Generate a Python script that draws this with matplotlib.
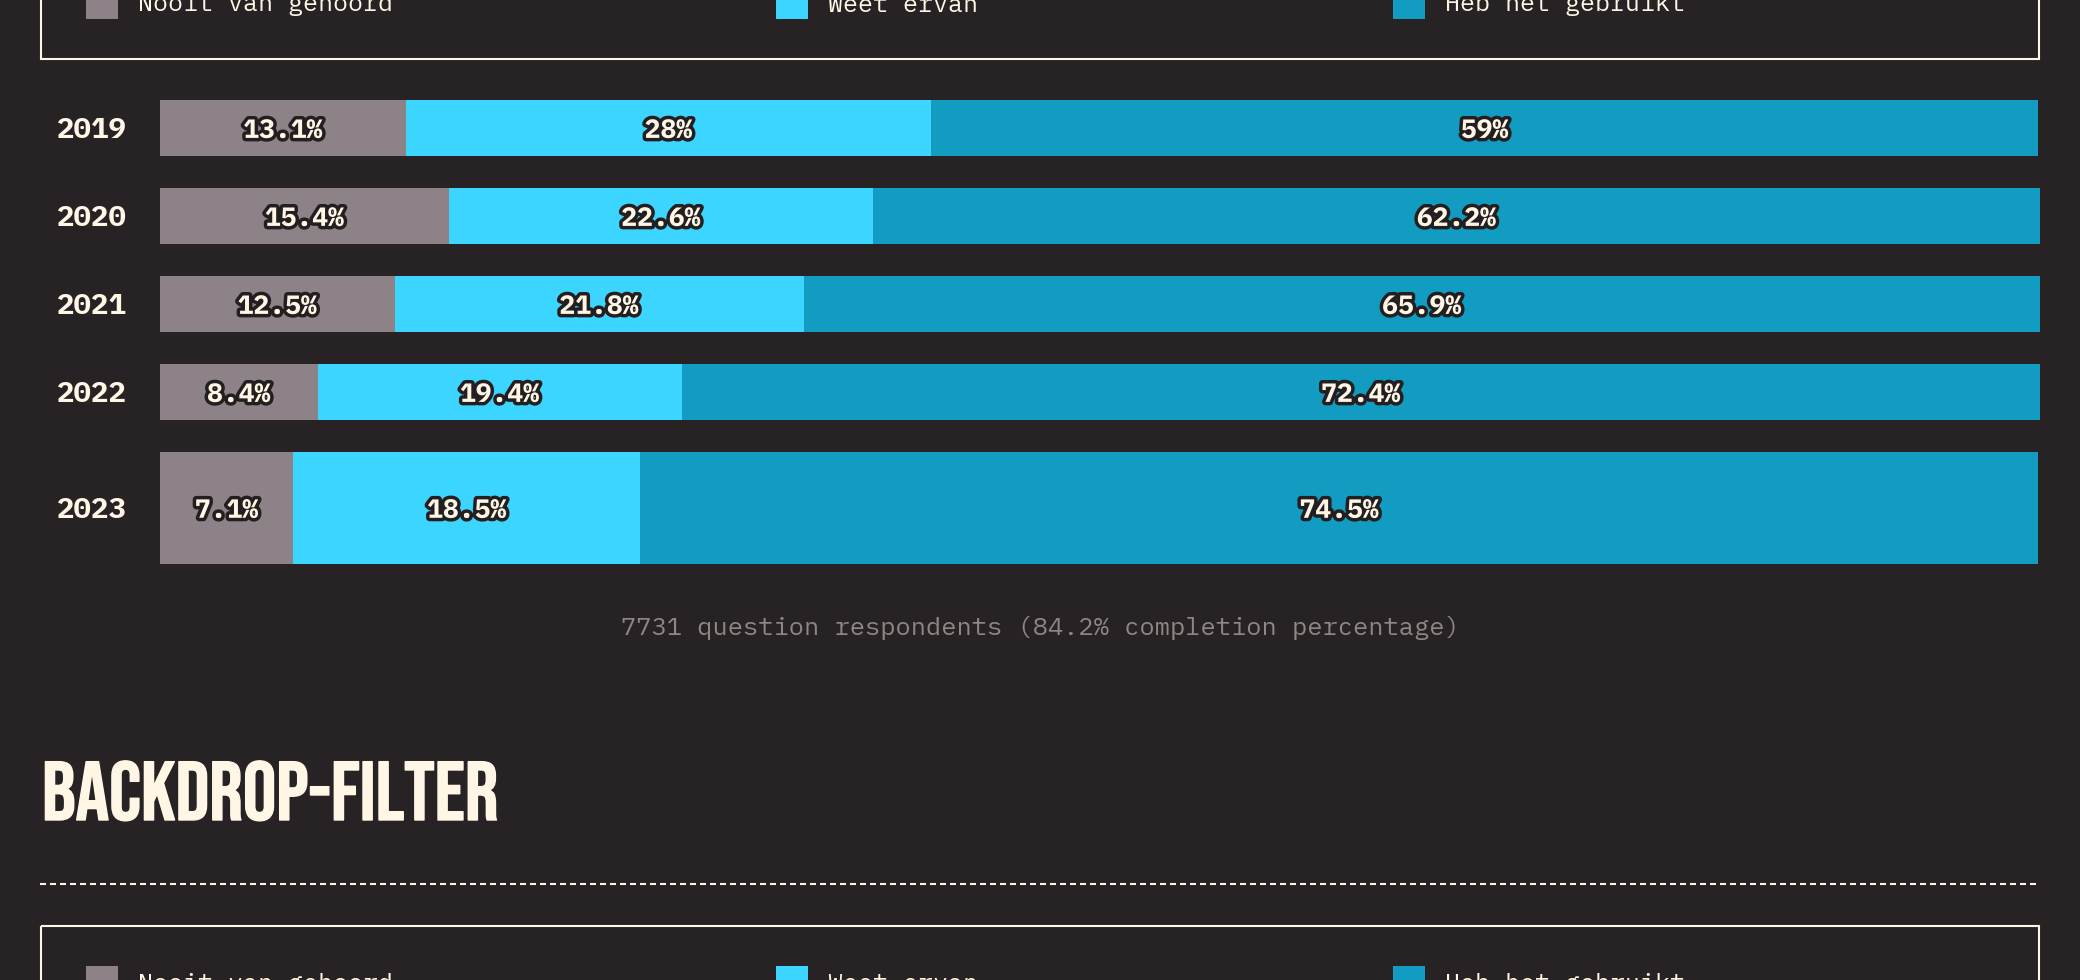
import matplotlib
matplotlib.use('Agg')
import matplotlib.pyplot as plt
from matplotlib import font_manager as fm
from matplotlib.patches import Rectangle
from matplotlib.textpath import TextPath
import matplotlib.patheffects as pe

# ---------------- data ----------------
years = ['2019', '2020', '2021', '2022', '2023']
categories = ['Nooit van gehoord', 'Weet ervan', 'Heb het gebruikt']
nooit = [13.1, 15.4, 12.5, 8.4, 7.1]
weet = [28, 22.6, 21.8, 19.4, 18.5]
gebruikt = [59, 62.2, 65.9, 72.4, 74.5]
footnote = '7731 question respondents (84.2% completion percentage)'
next_title = 'BACKDROP-FILTER'

# ---------------- style ----------------
BG = '#272325'
CREAM = '#fff6e6'
COLORS = ['#8c8287', '#3bd5ff', '#139cc2']
FOOT = '#8e8884'
OUTLINE = '#231f20'

W, H, DPI = 2080, 980, 100
fig = plt.figure(figsize=(W / DPI, H / DPI), dpi=DPI, facecolor=BG)


def font(candidates, weight='normal', size=12):
    for fam in candidates:
        fp = fm.FontProperties(family=fam, weight=weight, size=size)
        try:
            fm.findfont(fp, fallback_to_default=False)
            return fp
        except Exception:
            continue
    return fm.FontProperties(family='DejaVu Sans', weight=weight, size=size)


MONO = ['IBM Plex Mono', 'DejaVu Sans Mono']
lab_fp = font(MONO, 'bold', 19)
year_fp = font(MONO, 'bold', 21)
leg_fp = font(['IBM Plex Mono', 'Liberation Mono'], 'normal', 18)
foot_fp = font(['IBM Plex Mono', 'Liberation Mono'], 'normal', 18.3)

# ---------------- bar axes ----------------
pitch = 88.0          # px per row
row0 = 127.9          # px, centre of first row
ylo, yhi = -0.5, 5.0
top_px = row0 + ylo * pitch
bot_px = row0 + yhi * pitch
ax = fig.add_axes([160 / W, 1 - bot_px / H, 1880 / W, (bot_px - top_px) / H])
ax.set_facecolor('none')
ax.set_xlim(0, 100.2)
ax.set_ylim(yhi, ylo)

bar_h = 0.634
mult = [1, 1, 1, 1, 2]
bottoms = [i - bar_h / 2 for i in range(len(years))]
heights = [bar_h * m for m in mult]
centers = [b + h / 2 for b, h in zip(bottoms, heights)]

lefts = [0.0] * len(years)
for vals, col in zip([nooit, weet, gebruikt], COLORS):
    ax.barh(bottoms, vals, height=heights, left=lefts, align='edge',
            color=col, linewidth=0)
    for l, v, c in zip(lefts, vals, centers):
        ax.text(l + v / 2, c, f'{v:g}%', ha='center', va='center_baseline',
                fontproperties=lab_fp, color=CREAM,
                path_effects=[pe.withStroke(linewidth=5, foreground=OUTLINE)])
    lefts = [l + v for l, v in zip(lefts, vals)]

ax.set_yticks(centers, labels=years)
ax.tick_params(axis='y', length=0, pad=23.5, labelcolor=CREAM)
for lbl in ax.get_yticklabels():
    lbl.set_fontproperties(year_fp)
ax.set_xticks([])
for s in ax.spines.values():
    s.set_visible(False)

# ---------------- overlay (page decorations) ----------------
ov = fig.add_axes([0, 0, 1, 1], zorder=-1)
ov.set_xlim(0, W)
ov.set_ylim(H, 0)
ov.axis('off')
ov.patch.set_visible(False)

legend_sq_x = [86, 776, 1393]


def draw_legend(box_top, box_bottom):
    ov.add_patch(Rectangle((41, box_top), 1998, box_bottom - box_top,
                           fill=False, edgecolor=CREAM, linewidth=1.5))
    sq_top = box_top + 40
    for x, lab, col in zip(legend_sq_x, categories, COLORS):
        ov.add_patch(Rectangle((x, sq_top), 32, 32, facecolor=col,
                               edgecolor='none'))
        ov.text(x + 52, sq_top + 24.5, lab, ha='left', va='baseline',
                fontproperties=leg_fp, color=CREAM)


draw_legend(-53, 59)
draw_legend(926, 1038)

ov.text(1040, 635, footnote, ha='center', va='baseline',
        fontproperties=foot_fp, color=FOOT)

# title in a heavy condensed display face (light faux-bold via same-colour stroke)
title_fp = font(['Bebas Neue', 'Anton', 'Saira ExtraCondensed'], 'normal', 40)
if title_fp.get_family()[0] == 'Saira ExtraCondensed':
    title_fp.set_weight(800)
cap_px = 60.0
ext = TextPath((0, 0), next_title, size=100, prop=title_fp).get_extents()
title_fp.set_size(cap_px * 72 / DPI / (ext.height / 100.0))
ov.text(42, 820, next_title, ha='left', va='baseline', color=CREAM,
        fontproperties=title_fp,
        path_effects=[pe.withStroke(linewidth=1.0, foreground=CREAM)])

ov.plot([40, 2039], [884, 884], color=CREAM, linewidth=1.5,
        dashes=(2.88, 1.92))

fig.savefig('out.png', dpi=DPI, facecolor=BG)
